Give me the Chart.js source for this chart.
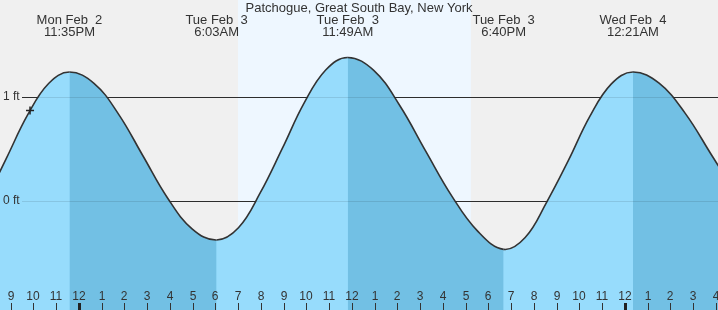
<!DOCTYPE html>
<html>
<head>
<meta charset="utf-8">
<script src="https://cdn.jsdelivr.net/npm/chart.js@4/dist/chart.umd.min.js"></script>
<style>
  html, body { margin: 0; padding: 0; background: #f0f0f0; }
  canvas { display: block; }
</style>
</head>
<body>
<canvas id="tideChart" width="718" height="310"></canvas>
<script>
// hours relative to midnight starting Tue Feb 3
const tideHours = [-4.085, -3.17, -2.25, -1.334, -0.417, 0.661, 1.739, 2.817, 3.895, 4.972, 6.05,
  7.011, 7.972, 8.934, 9.895, 10.856, 11.817, 12.958, 14.1, 15.242, 16.384, 17.525, 18.667,
  19.614, 20.561, 21.509, 22.456, 23.403, 24.35, 25.5, 26.65, 27.8, 28.95];
const tideFeet = [0.01, 0.42, 0.83, 1.13, 1.24, 1.132, 0.836, 0.433, 0.029, -0.267, -0.375,
  -0.257, 0.08, 0.503, 0.941, 1.262, 1.38, 1.256, 0.919, 0.48, 0.05, -0.29, -0.465,
  -0.351, -0.01, 0.388, 0.814, 1.126, 1.24, 1.133, 0.843, 0.445, 0.048];

const extremeHours = [-0.417, 6.05, 11.817, 18.667, 24.35];
const extremeDays = ['Mon Feb  2', 'Tue Feb  3', 'Tue Feb  3', 'Tue Feb  3', 'Wed Feb  4'];
const extremeTimes = ['11:35PM', '6:03AM', '11:49AM', '6:40PM', '12:21AM'];

const tickHours = [-3, -2, -1, 0, 1, 2, 3, 4, 5, 6, 7, 8, 9, 10, 11, 12, 13, 14, 15, 16, 17, 18, 19, 20, 21, 22, 23, 24, 25, 26, 27, 28];
const tickLabels = ['9', '10', '11', '12', '1', '2', '3', '4', '5', '6', '7', '8', '9', '10', '11', '12',
  '1', '2', '3', '4', '5', '6', '7', '8', '9', '10', '11', '12', '1', '2', '3', '4'];
const midnightHours = [0, 24];

const levelFeet = [1, 0];
const levelLabels = ['1 ft', '0 ft'];

const sunrise = 6.99;
const sunset = 17.23;
const nowHour = -2.15;
const nowFeet = 0.87;

const title = 'Patchogue, Great South Bay, New York';

const FONT = '"Liberation Sans", Arial, sans-serif';
const INK = '#333';
const RISING = '#97dcfc';
const FALLING = '#72c0e4';

const tidePoints = tideHours.map((h, i) => ({ x: h, y: tideFeet[i] }));

function levelLines(chart, color) {
  const { ctx, scales: { y } } = chart;
  ctx.strokeStyle = color;
  ctx.lineWidth = 1;
  levelFeet.forEach(v => {
    const py = Math.round(y.getPixelForValue(v)) + 0.5;
    ctx.beginPath();
    ctx.moveTo(22, py);
    ctx.lineTo(chart.width, py);
    ctx.stroke();
  });
}

const tideDecor = {
  id: 'tideDecor',
  beforeDraw(chart) {
    const { ctx, scales: { x } } = chart;
    ctx.save();
    ctx.fillStyle = '#f0f0f0';
    ctx.fillRect(0, 0, chart.width, chart.height);
    const x0 = x.getPixelForValue(sunrise);
    const x1 = x.getPixelForValue(sunset);
    ctx.fillStyle = '#eef7ff';
    ctx.fillRect(x0, 0, x1 - x0, chart.height);
    levelLines(chart, INK);
    ctx.restore();
  },
  afterDatasetsDraw(chart) {
    const { ctx, scales: { x, y } } = chart;
    ctx.save();
    // faint level lines showing through the water
    levelLines(chart, 'rgba(0,0,0,0.1)');

    ctx.fillStyle = INK;
    ctx.font = '12px ' + FONT;
    ctx.textAlign = 'left';
    ctx.textBaseline = 'middle';
    levelFeet.forEach((v, i) => {
      ctx.fillText(levelLabels[i], 3, y.getPixelForValue(v));
    });

    // hour ticks along the bottom
    ctx.textAlign = 'center';
    ctx.textBaseline = 'alphabetic';
    tickHours.forEach((h, i) => {
      const px = Math.round(x.getPixelForValue(h));
      ctx.fillStyle = INK;
      ctx.fillText(tickLabels[i], px, 300);
      const thick = midnightHours.includes(h);
      ctx.fillStyle = thick ? '#222' : INK;
      ctx.fillRect(thick ? px - 1 : px, 303, thick ? 3 : 1, 7);
    });

    // title and extreme labels
    ctx.font = '13px ' + FONT;
    ctx.fillStyle = INK;
    ctx.fillText(title, chart.width / 2, 12);
    extremeHours.forEach((h, i) => {
      const px = x.getPixelForValue(h);
      ctx.fillText(extremeDays[i], px, 24);
      ctx.fillText(extremeTimes[i], px, 36);
    });
    ctx.restore();
  }
};

new Chart(document.getElementById('tideChart').getContext('2d'), {
  type: 'line',
  data: {
    datasets: [{
      // now marker
      data: [{ x: nowHour, y: nowFeet }],
      showLine: false,
      fill: false,
      pointStyle: 'cross',
      pointRadius: 4,
      borderColor: '#222',
      borderWidth: 1.5
    }, {
      // tide line, darker water on the falling tide
      data: tidePoints,
      borderColor: '#333',
      borderWidth: 1.6,
      pointRadius: 0,
      tension: 0.4,
      fill: 'start',
      backgroundColor: FALLING,
      segment: {
        backgroundColor: c => (c.p1.parsed.y < c.p0.parsed.y ? FALLING : 'rgba(0,0,0,0)')
      }
    }, {
      // water under the whole curve
      data: tidePoints,
      borderWidth: 0,
      borderColor: 'rgba(0,0,0,0)',
      pointRadius: 0,
      tension: 0.4,
      fill: 'start',
      backgroundColor: RISING
    }]
  },
  options: {
    responsive: false,
    animation: false,
    devicePixelRatio: 1,
    layout: { padding: 0, autoPadding: false },
    scales: {
      x: { type: 'linear', min: -3.47, max: 28.09, display: false },
      y: { min: -1.048, max: 1.933, display: false }
    },
    plugins: {
      legend: { display: false },
      tooltip: { enabled: false }
    }
  },
  plugins: [tideDecor]
});
</script>
</body>
</html>
